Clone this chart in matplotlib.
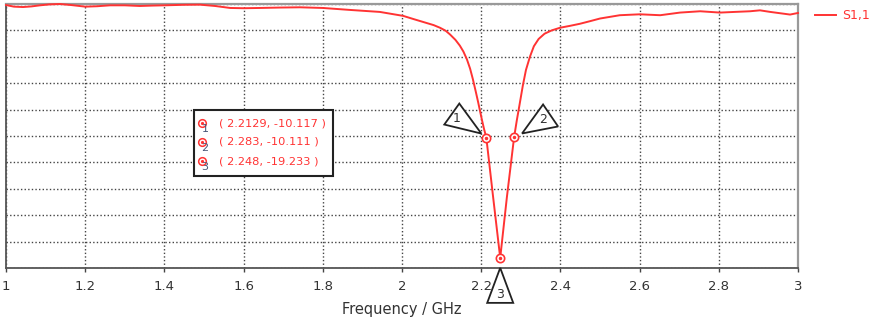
import numpy as np
import matplotlib
matplotlib.use("Agg")
import matplotlib.pyplot as plt
from matplotlib.patches import Polygon, Rectangle

# S1,1 trace (GHz, dB)
freq = [1.0, 1.02, 1.043, 1.065, 1.086, 1.11, 1.136, 1.165, 1.2, 1.23, 1.263, 1.3,
        1.338, 1.37, 1.40, 1.45, 1.49, 1.528, 1.566, 1.60, 1.641, 1.69, 1.742,
        1.80, 1.869, 1.944, 2.003, 2.03, 2.06, 2.08, 2.096, 2.11, 2.121, 2.135,
        2.146, 2.155, 2.164, 2.172, 2.179, 2.186, 2.192, 2.197, 2.202, 2.207,
        2.2129, 2.23, 2.248, 2.265, 2.283, 2.29, 2.297, 2.305, 2.313, 2.323,
        2.333, 2.345, 2.36, 2.378, 2.399, 2.425, 2.449, 2.475, 2.5, 2.55, 2.601,
        2.652, 2.702, 2.753, 2.803, 2.84, 2.879, 2.904, 2.93, 2.955, 2.98, 3.0]
s11 = [-0.08, -0.2, -0.23, -0.18, -0.1, -0.03, 0.0, -0.08, -0.2, -0.17, -0.1, -0.1,
       -0.15, -0.12, -0.1, -0.06, -0.05, -0.15, -0.3, -0.32, -0.3, -0.27, -0.25,
       -0.3, -0.45, -0.6, -0.9, -1.15, -1.42, -1.6, -1.8, -2.02, -2.3, -2.72,
       -3.15, -3.6, -4.2, -4.9, -5.7, -6.6, -7.4, -8.1, -8.8, -9.45,
       -10.117, -14.6, -19.233, -14.6, -10.111, -8.8, -7.6, -6.2, -5.0, -4.0,
       -3.2, -2.65, -2.25, -2.0, -1.8, -1.65, -1.5, -1.3, -1.1, -0.85, -0.78,
       -0.85, -0.65, -0.55, -0.65, -0.6, -0.55, -0.48, -0.6, -0.7, -0.8, -0.68]

marker_freq = [2.2129, 2.283, 2.248]
marker_s11 = [-10.117, -10.111, -19.233]
marker_names = ["1", "2", "3"]

x_ticks = [1, 1.2, 1.4, 1.6, 1.8, 2, 2.2, 2.4, 2.6, 2.8, 3]
x_ticklabels = ["1", "1.2", "1.4", "1.6", "1.8", "2", "2.2", "2.4", "2.6", "2.8", "3"]
y_ticks = list(range(-20, 1, 2))

RED = "#ff3333"
W, H = 880, 324

fig = plt.figure(figsize=(W / 100, H / 100), dpi=100)
ax = fig.add_axes([6 / W, 1 - 268 / H, 792 / W, 264 / H])


def px(x, y):
    # figure pixel (top-left origin) -> figure fraction
    return x / W, 1 - y / H


ax.plot(freq, s11, color=RED, lw=1.4, zorder=3, clip_on=False)
ax.plot(marker_freq, marker_s11, ls="none", marker="o", ms=6, mfc="white",
        mec=RED, mew=1.2, zorder=4, clip_on=False)
ax.plot(marker_freq, marker_s11, ls="none", marker="o", ms=1.5, color=RED,
        zorder=5, clip_on=False)

ax.set_xlim(1, 3)
ax.set_ylim(-20, 0)
ax.set_xticks(x_ticks)
ax.set_xticklabels(x_ticklabels, fontsize=9.5, color="#333333")
ax.set_yticks(y_ticks)
ax.tick_params(axis="y", left=False, labelleft=False)
ax.tick_params(axis="x", length=3, width=1, color="#444444", pad=6)
ax.grid(True, ls=(0, (1, 1.6)), color="#444444", lw=1)
ax.set_xlabel("Frequency / GHz", fontsize=10.5, color="#333333", labelpad=6)

for side in ["left", "bottom"]:
    ax.spines[side].set_color("#555555")
    ax.spines[side].set_linewidth(1.3)
for side in ["top", "right"]:
    ax.spines[side].set_color("#999999")
    ax.spines[side].set_linewidth(1.6)

# triangle flags next to each marker, offsets in pixels (y up)
flags = {
    "1": ([(-42, 13), (-27, 34), (-5, 4)], (-30, 19)),
    "2": ([(8, 4), (29, 33), (44, 11)], (29, 18)),
    "3": ([(0, -10), (-13, -45), (13, -45)], (0, -37)),
}
for f, s, name in zip(marker_freq, marker_s11, marker_names):
    verts, lab = flags[name]
    base = ax.transData.transform((f, s))
    disp = [(base[0] + dx, base[1] + dy) for dx, dy in verts]
    poly = Polygon(disp, closed=True, fill=True, fc="white", ec="#222222",
                   lw=1.3, transform=None, zorder=6, clip_on=False)
    fig.patches.append(poly)
    fig.text(*fig.transFigure.inverted().transform((base[0] + lab[0], base[1] + lab[1])),
             name, fontsize=9, color="#333333", ha="center", va="center", zorder=7)

# marker readout box
x0, y0 = px(194, 176)
x1, y1 = px(333, 110)
fig.patches.append(Rectangle((x0, y0), x1 - x0, y1 - y0, transform=fig.transFigure,
                             fc="white", ec="#222222", lw=1.5, zorder=8))
rows_y = [123, 142, 161]
for ry, f, s, name in zip(rows_y, marker_freq, marker_s11, marker_names):
    cx, cy = px(202, ry)
    fig.lines.append(plt.Line2D([cx], [cy], transform=fig.transFigure, ls="none",
                                marker="o", ms=5.5, mfc="white", mec=RED, mew=1.1, zorder=9))
    fig.lines.append(plt.Line2D([cx], [cy], transform=fig.transFigure, ls="none",
                                marker="o", ms=1.3, color=RED, zorder=10))
    fig.text(*px(205, ry + 6), name, fontsize=8, color="#4a5878", ha="center",
             va="center", zorder=10)
    fig.text(*px(219, ry), f"( {f:g}, {s:.3f} )", fontsize=8.2, color=RED,
             ha="left", va="center", zorder=10)

# legend outside on the right
lx0, ly = px(815, 15)
lx1, _ = px(836, 15)
fig.lines.append(plt.Line2D([lx0, lx1], [ly, ly], transform=fig.transFigure,
                            color=RED, lw=1.4))
fig.text(*px(842, 15), "S1,1", fontsize=9, color=RED, ha="left", va="center")

fig.savefig("out.png", dpi=100)
